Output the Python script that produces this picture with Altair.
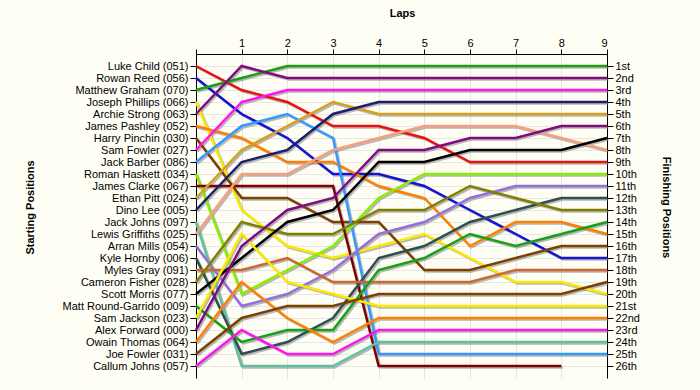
import json
import altair as alt
import pandas as pd

drivers = [
    "Luke Child (051)", "Rowan Reed (056)", "Matthew Graham (070)", "Joseph Phillips (066)",
    "Archie Strong (063)", "James Pashley (052)", "Harry Pinchin (030)", "Sam Fowler (027)",
    "Jack Barber (086)", "Roman Haskett (034)", "James Clarke (067)", "Ethan Pitt (024)",
    "Dino Lee (005)", "Jack Johns (097)", "Lewis Griffiths (025)", "Arran Mills (054)",
    "Kyle Hornby (006)", "Myles Gray (091)", "Cameron Fisher (028)", "Scott Morris (077)",
    "Matt Round-Garrido (009)", "Sam Jackson (023)", "Alex Forward (000)", "Owain Thomas (064)",
    "Joe Fowler (031)", "Callum Johns (057)",
]

colors = [
    "#e8130f", "#1414d2", "#17a017", "#fde800", "#800a80", "#ff8000", "#7a4100", "#ff14f0",
    "#3399ff", "#88ee00", "#800000", "#d4a020", "#1e1e6e", "#60c0a0", "#f5a080", "#9370db",
    "#2f4f4f", "#cc6633", "#808000", "#000000", "#17a017", "#fde800", "#800a80", "#ff8000",
    "#7a4100", "#ff14f0",
]

# positions of each driver (same order as drivers) at the end of each lap
lap0 = [1, 2, 3, 4, 5, 6, 7, 8, 9, 10, 11, 12, 13, 14, 15, 16, 17, 18, 19, 20, 21, 22, 23, 24, 25, 26]
lap1 = [3, 5, 2, 13, 1, 7, 12, 4, 6, 20, 11, 8, 9, 26, 10, 21, 25, 18, 14, 17, 24, 15, 16, 19, 22, 23]
lap2 = [4, 7, 1, 16, 2, 9, 12, 3, 5, 18, 11, 6, 8, 26, 10, 20, 24, 17, 15, 14, 23, 19, 13, 22, 21, 25]
lap3 = [6, 10, 1, 17, 2, 9, 14, 3, 7, 16, 11, 4, 5, 26, 8, 18, 22, 19, 15, 13, 23, 20, 12, 24, 21, 25]
lap4 = [6, 10, 1, 16, 2, 11, 14, 3, 25, 12, 26, 5, 4, 24, 7, 15, 17, 19, 13, 9, 18, 21, 8, 22, 20, 23]
lap5 = [7, 11, 1, 15, 2, 12, 18, 3, 25, 10, 26, 5, 4, 24, 6, 14, 16, 19, 13, 9, 17, 21, 8, 22, 20, 23]
lap6 = [9, 13, 1, 17, 2, 16, 18, 3, 25, 10, 26, 5, 4, 24, 6, 12, 14, 19, 11, 8, 15, 21, 7, 22, 20, 23]
lap7 = [9, 15, 1, 19, 2, 14, 17, 3, 25, 10, 26, 5, 4, 24, 6, 11, 13, 18, 12, 8, 16, 21, 7, 22, 20, 23]
lap8 = [9, 17, 1, 19, 2, 14, 16, 3, 25, 10, 26, 5, 4, 24, 7, 11, 12, 18, 13, 8, 15, 21, 6, 22, 20, 23]
lap9 = [9, 17, 1, 20, 2, 15, 16, 3, 25, 10, None, 5, 4, 24, 8, 11, 12, 18, 13, 7, 14, 21, 6, 22, 19, 23]

finish_labels = [
    "1st", "2nd", "3rd", "4th", "5th", "6th", "7th", "8th", "9th", "10th", "11th", "12th", "13th",
    "14th", "15th", "16th", "17th", "18th", "19th", "20th", "21st", "22nd", "23rd", "24th", "25th", "26th",
]

laps = [lap0, lap1, lap2, lap3, lap4, lap5, lap6, lap7, lap8, lap9]
rows = []
for i, d in enumerate(drivers):
    for lap, arr in enumerate(laps):
        p = arr[i]
        if p is None:
            continue
        rows.append({"driver": d, "lap": lap, "pos": p, "idx": i})
df = pd.DataFrame(rows)

FONT = "Liberation Sans"
left_expr = json.dumps([""] + drivers) + "[datum.value]"
right_expr = json.dumps([""] + finish_labels) + "[datum.value]"

xscale = alt.Scale(domain=[0, 9], nice=False, zero=False)
yscale = alt.Scale(domain=[0, 27], reverse=True, nice=False, zero=False)

x_enc = alt.X(
    "lap:Q", scale=xscale,
    axis=alt.Axis(
        orient="top", values=list(range(10)),
        labelExpr="datum.value == 0 ? '' : datum.label",
        title="Laps", titleFontWeight="bold", titleFontSize=11, titleFont=FONT,
        titleX=206, titleY=-36,
        labelFont=FONT, labelFontSize=11, labelColor="black", labelPadding=1,
        tickSize=5, tickColor="black", domainColor="black",
        grid=True, gridColor="#e6e6e6", gridWidth=1,
    ),
)

y_left = alt.Y(
    "pos:Q", scale=yscale,
    axis=alt.Axis(
        orient="left", values=list(range(1, 27)), labelExpr=left_expr,
        title="Starting Positions", titleFontWeight="bold", titleFontSize=11, titleFont=FONT,
        titleAngle=270, titleX=-166, titleY=153, titleAlign="center", titleBaseline="middle",
        labelFont=FONT, labelFontSize=11, labelColor="black", labelPadding=2,
        tickSize=6, tickColor="black", domainColor="black",
        grid=True, gridColor="#e6e6e6", gridWidth=1,
    ),
)

y_right = alt.Y(
    "pos:Q", scale=yscale,
    axis=alt.Axis(
        orient="right", values=list(range(1, 27)), labelExpr=right_expr,
        title="Finishing Positions", titleFontWeight="bold", titleFontSize=11, titleFont=FONT,
        titleAngle=90, titleX=58, titleY=153, titleAlign="center", titleBaseline="middle",
        labelFont=FONT, labelFontSize=11, labelColor="black", labelPadding=2,
        tickSize=6, tickColor="black", domainColor="black",
        grid=False,
    ),
)

color_enc = alt.Color("driver:N", scale=alt.Scale(domain=drivers, range=colors), legend=None)

shadow = alt.Chart(df).mark_line(
    color="#808080", strokeWidth=2.5, opacity=0.55, xOffset=1.5, yOffset=1.5
).encode(x=x_enc, y=y_left, detail="driver:N", order="lap:Q")

lines = alt.Chart(df).mark_line(strokeWidth=2.5).encode(
    x=x_enc, y=y_left, color=color_enc, detail="driver:N", order="lap:Q"
)

right = alt.Chart(df).mark_line(opacity=0).encode(
    x=alt.X("lap:Q", scale=xscale), y=y_right, detail="driver:N"
)

left_part = alt.layer(shadow, lines)
chart = alt.layer(left_part, right).resolve_scale(y="independent").properties(
    width=411, height=324,
    autosize=alt.AutoSizeParams(type="none"),
    padding={"left": 196, "top": 54, "right": 93, "bottom": 12},
    background="#fefef4",
).configure_view(stroke=None)

chart.save("out.html", embed_options={"renderer": "svg", "actions": False})
